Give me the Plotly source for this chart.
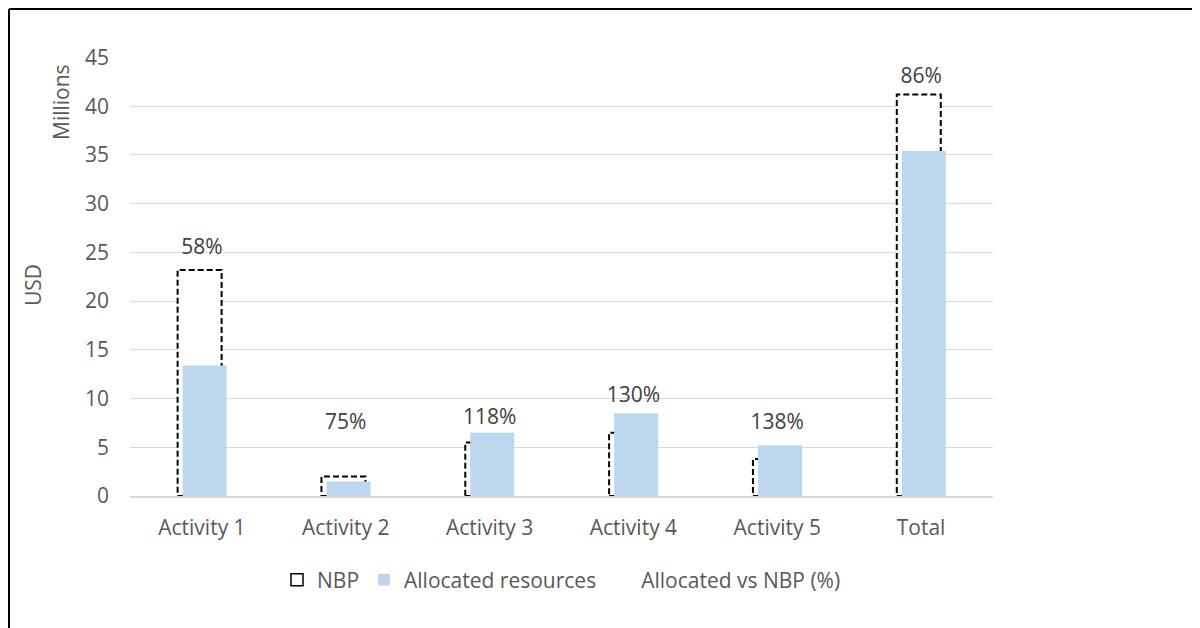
import plotly.graph_objects as go

categories = ['Activity 1', 'Activity 2', 'Activity 3', 'Activity 4', 'Activity 5', 'Total']
nbp = [23.2, 2.0, 5.5, 6.5, 3.8, 41.2]          # millions USD
allocated = [13.4, 1.5, 6.5, 8.5, 5.2, 35.4]    # millions USD
pct = [58, 75, 118, 130, 138, 86]               # allocated vs NBP (%)
pct_series = [25.4, 7.4, 7.9, 10.2, 7.4, 42.9]  # values of the hidden label series
yticks = [0, 5, 10, 15, 20, 25, 30, 35, 40, 45]

W, H = 1200, 628
OFF = 8  # page body margin
# plot area in page pixels: x 130..993, y 57..496
ml, mt = 130 - OFF, 57 - OFF
mr, mb = W - (993 - OFF), H - (496 - OFF)
pw, ph = W - ml - mr, H - mt - mb

def px(x):
    return (x - OFF - ml) / pw

def py(y):
    return (H - mb - (y - OFF)) / ph

font = 'Open Sans'
grey = '#595959'
fs = 21
idx = list(range(len(categories)))

fig = go.Figure()

# NBP legend entry (the dashed outlines themselves are shapes below)
fig.add_trace(go.Bar(x=[None], y=[None], name='NBP',
                     marker=dict(color='white', line=dict(color='black', width=1.5))))
fig.add_trace(go.Bar(x=idx, y=allocated, name='Allocated resources',
                     width=0.306, offset=-0.134, marker_color='#BDD7EE', marker_line_width=0))
fig.add_trace(go.Scatter(x=[None], y=[None], mode='lines', name='Allocated vs NBP (%)',
                         line=dict(color='rgba(0,0,0,0)')))
fig.add_trace(go.Scatter(x=idx, y=pct_series, mode='text', text=[f'{p}%' for p in pct],
                         textposition='middle center', showlegend=False,
                         textfont=dict(family=font, size=fs, color='#404040')))

shapes = []
for i, v in enumerate(nbp):
    shapes.append(dict(type='rect', xref='x', yref='y', x0=i - 0.169, x1=i + 0.137, y0=0, y1=v,
                       layer='between', fillcolor='white',
                       line=dict(color='black', width=2, dash='6px,3px')))
# outer frame (top and left edges only)
shapes.append(dict(type='line', xref='paper', yref='paper', x0=px(9), x1=px(W + 20), y0=py(9), y1=py(9),
                   line=dict(color='black', width=2)))
shapes.append(dict(type='line', xref='paper', yref='paper', x0=px(9), x1=px(9), y0=py(9), y1=py(H + 20),
                   line=dict(color='black', width=2)))

fig.update_layout(
    width=W, height=H, margin=dict(l=ml, r=mr, t=mt, b=mb),
    plot_bgcolor='white', paper_bgcolor='white',
    barmode='overlay', shapes=shapes,
    font=dict(family=font, size=fs, color=grey),
    legend=dict(orientation='h', x=0.5, xanchor='center', y=py(580), yanchor='middle',
                font=dict(size=fs, color=grey), traceorder='normal'),
    annotations=[
        dict(text='USD', xref='paper', yref='paper', x=px(33), y=py(285), showarrow=False,
             xanchor='center', yanchor='middle', textangle=-90, font=dict(size=fs, color=grey)),
        dict(text='Millions', xref='paper', yref='paper', x=px(61), y=py(102), showarrow=False,
             xanchor='center', yanchor='middle', textangle=-90, font=dict(size=fs, color=grey)),
    ],
)
fig.update_xaxes(range=[-0.5, 5.5], tickvals=idx, ticktext=categories, showgrid=False,
                 showline=True, linecolor='#D9D9D9', linewidth=1.5, zeroline=False,
                 ticks='', ticklabelstandoff=12, tickfont=dict(size=fs, color=grey))
fig.update_yaxes(range=[0, 45.05], tickvals=yticks, showgrid=True, gridcolor='#D9D9D9', gridwidth=1,
                 zeroline=False, showline=False, ticks='', ticklabelstandoff=20,
                 tickfont=dict(size=fs, color=grey))

fig.write_html('out.html')
